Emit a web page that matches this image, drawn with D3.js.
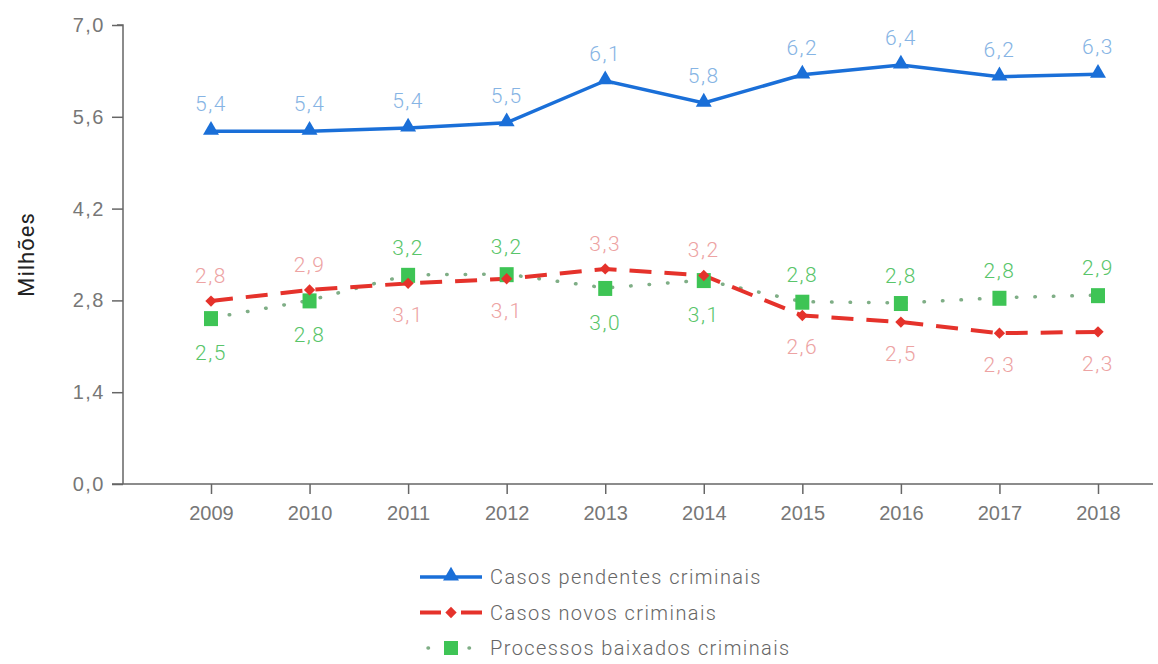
<!DOCTYPE html>
<html>
<head>
<meta charset="utf-8">
<script src="https://cdn.jsdelivr.net/npm/d3@7"></script>
<style>
  body { margin: 0; background: #fff; }
  svg { font-family: "Roboto Light", "Open Sans Light", Roboto, sans-serif; font-weight: 300; }
</style>
</head>
<body>
<svg id="chart"></svg>
<script>
const years = ["2009", "2010", "2011", "2012", "2013", "2014", "2015", "2016", "2017", "2018"];
const pendentes = [5.38, 5.38, 5.43, 5.51, 6.15, 5.81, 6.24, 6.39, 6.21, 6.25];
const novos = [2.79, 2.96, 3.06, 3.13, 3.28, 3.18, 2.57, 2.47, 2.30, 2.32];
const baixados = [2.53, 2.80, 3.19, 3.20, 2.99, 3.11, 2.78, 2.76, 2.84, 2.88];
const pendentesLabels = ["5,4", "5,4", "5,4", "5,5", "6,1", "5,8", "6,2", "6,4", "6,2", "6,3"];
const novosLabels = ["2,8", "2,9", "3,1", "3,1", "3,3", "3,2", "2,6", "2,5", "2,3", "2,3"];
const baixadosLabels = ["2,5", "2,8", "3,2", "3,2", "3,0", "3,1", "2,8", "2,8", "2,8", "2,9"];
// true = red label above the point (green label goes below)
const novosAbove = [true, true, false, false, true, true, false, false, false, false];
const yTicks = [0, 1.4, 2.8, 4.2, 5.6, 7.0];
const legendNames = ["Casos pendentes criminais", "Casos novos criminais", "Processos baixados criminais"];

const W = 1158, H = 664;
const margin = { top: 25, right: 8, bottom: 180, left: 123 };
const width = W - margin.left - margin.right;
const height = H - margin.top - margin.bottom;

const blue = "#1a6fd8", blueLbl = "#86b4e4";
const red = "#e5322b", redLbl = "#eda3a3";
const green = "#3ec455", greenLbl = "#59c56a", greenDot = "#7fae86";
const axisColor = "#666";

const svg = d3.select("#chart").attr("width", W).attr("height", H);
const g = svg.append("g").attr("transform", `translate(${margin.left},${margin.top})`);

const x = d3.scalePoint().domain(years).range([88, 975]);
const y = d3.scaleLinear().domain([0, 7]).range([height, 0]);

// axes
const yAxis = g.append("g")
  .call(d3.axisLeft(y).tickValues(yTicks).tickSize(11).tickPadding(7)
    .tickFormat(d => d3.format(".1f")(d).replace(".", ",")));
yAxis.select(".domain").attr("d", `M-6,0H0V${height}`).attr("stroke", axisColor).attr("stroke-width", 1.5);
yAxis.selectAll(".tick line").attr("stroke", axisColor).attr("stroke-width", 1.5);
yAxis.selectAll("text").attr("fill", "#777").style("font-size", "20px").style("letter-spacing", "1.5px");

const xAxis = g.append("g").attr("transform", `translate(0,${height})`)
  .call(d3.axisBottom(x).tickSize(10).tickPadding(12));
xAxis.select(".domain").remove();
xAxis.selectAll(".tick line").attr("stroke", axisColor).attr("stroke-width", 1.5);
xAxis.selectAll("text").attr("fill", "#777").style("font-size", "20px").style("letter-spacing", "0px");
g.append("line").attr("x1", -11).attr("x2", width + 3).attr("y1", height).attr("y2", height)
  .attr("stroke", axisColor).attr("stroke-width", 1.5);

// axis title
svg.append("text")
  .attr("transform", `translate(34,${margin.top + y(3.5)}) rotate(-90)`)
  .attr("text-anchor", "middle")
  .style("font-family", "Roboto, sans-serif").style("font-weight", 400)
  .style("font-size", "22px").style("letter-spacing", "1px").attr("fill", "#222")
  .text("Milhões");

const line = vals => d3.line().x((d, i) => x(years[i])).y(d => y(d))(vals);

// lines
g.append("path").attr("d", line(baixados)).attr("fill", "none")
  .attr("stroke", greenDot).attr("stroke-width", 3.5).attr("stroke-linecap", "round")
  .attr("stroke-dasharray", "0.5,18");
g.append("path").attr("d", line(novos)).attr("fill", "none")
  .attr("stroke", red).attr("stroke-width", 4).attr("stroke-dasharray", "22,13");
g.append("path").attr("d", line(pendentes)).attr("fill", "none")
  .attr("stroke", blue).attr("stroke-width", 3.5);

// markers
const tri = d3.symbol().type(d3.symbolTriangle).size(110);
const dia = d3.symbol().type(d3.symbolSquare).size(64);

g.selectAll(".sq").data(baixados).join("rect")
  .attr("x", (d, i) => x(years[i]) - 7).attr("y", d => y(d) - 7)
  .attr("width", 14).attr("height", 15).attr("fill", green);
g.selectAll(".dia").data(novos).join("path")
  .attr("d", dia).attr("transform", (d, i) => `translate(${x(years[i])},${y(d)}) rotate(45)`).attr("fill", red);
g.selectAll(".tri").data(pendentes).join("path")
  .attr("d", tri).attr("transform", (d, i) => `translate(${x(years[i])},${y(d) - 1})`).attr("fill", blue);

// value labels
function addLabels(vals, labels, color, dyFn) {
  g.selectAll(null).data(vals).join("text")
    .attr("x", (d, i) => x(years[i]))
    .attr("y", (d, i) => y(d) + dyFn(i))
    .attr("text-anchor", "middle")
    .attr("fill", color)
    .style("font-size", "21px").style("letter-spacing", "1.5px")
    .text((d, i) => labels[i]);
}
addLabels(pendentes, pendentesLabels, blueLbl, () => -20);
addLabels(novos, novosLabels, redLbl, i => novosAbove[i] ? -18 : 39);
addLabels(baixados, baixadosLabels, greenLbl, i => novosAbove[i] ? 42 : -20);

// legend
const legend = svg.append("g").attr("transform", "translate(420,577)");
const rowGap = 35.5;
legendNames.forEach((name, i) => {
  const row = legend.append("g").attr("transform", `translate(0,${i * rowGap})`);
  if (i === 0) {
    row.append("line").attr("x1", 0).attr("x2", 62).attr("stroke", blue).attr("stroke-width", 3.5);
    row.append("path").attr("d", tri).attr("transform", "translate(31,-1)").attr("fill", blue);
  } else if (i === 1) {
    row.append("line").attr("x1", 0).attr("x2", 62).attr("stroke", red).attr("stroke-width", 4)
      .attr("stroke-dasharray", "21,20");
    row.append("path").attr("d", dia).attr("transform", "translate(31,0) rotate(45)").attr("fill", red);
  } else {
    row.append("line").attr("x1", 0).attr("x2", 62).attr("stroke", greenDot).attr("stroke-width", 3.5)
      .attr("stroke-linecap", "round").attr("stroke-dasharray", "0.5,20").attr("stroke-dashoffset", -8);
    row.append("rect").attr("x", 24).attr("y", -7).attr("width", 14).attr("height", 14).attr("fill", green);
  }
  row.append("text").attr("x", 70).attr("y", 7)
    .attr("fill", "#666").style("font-size", "20px").style("letter-spacing", "1.4px")
    .text(name);
});
</script>
</body>
</html>
